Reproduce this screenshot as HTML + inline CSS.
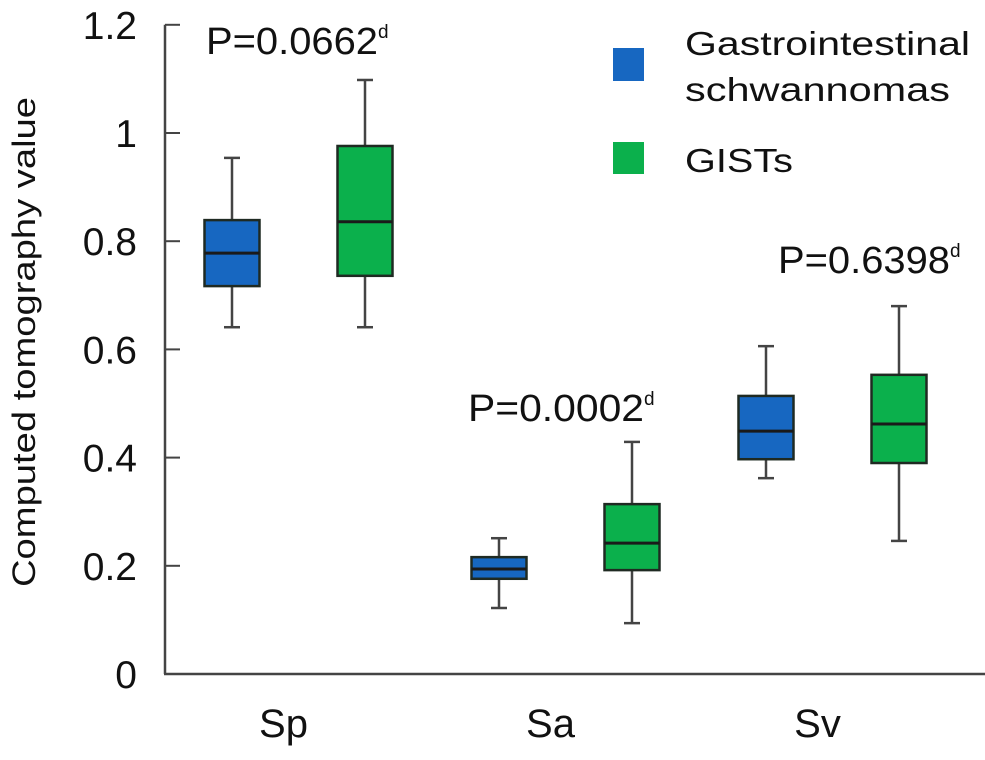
<!DOCTYPE html>
<html><head><meta charset="utf-8"><style>
html,body{margin:0;padding:0;background:#fff;}
svg{display:block;font-family:"Liberation Sans",Arial,sans-serif;}
</style></head><body>
<svg id="chart" width="985" height="760" viewBox="0 0 985 760">
<g id="axes"></g>
<g id="boxes"></g>
<text x="35" y="342" font-size="32" text-anchor="middle" textLength="490" lengthAdjust="spacingAndGlyphs" transform="rotate(-90 35 342)" fill="#111">Computed tomography value</text>
<text x="206" y="54" font-size="38" fill="#111"><tspan textLength="172" lengthAdjust="spacingAndGlyphs">P=0.0662</tspan><tspan font-size="19" dy="-16">d</tspan></text>
<text x="468" y="421" font-size="38" fill="#111"><tspan textLength="176" lengthAdjust="spacingAndGlyphs">P=0.0002</tspan><tspan font-size="19" dy="-16">d</tspan></text>
<text x="778" y="273" font-size="38" fill="#111"><tspan textLength="172" lengthAdjust="spacingAndGlyphs">P=0.6398</tspan><tspan font-size="19" dy="-16">d</tspan></text>
<g>
<g>
<rect x="613" y="48" width="31" height="33" fill="#1767c1"/>
<text x="685" y="55" font-size="33" textLength="285" lengthAdjust="spacingAndGlyphs" fill="#111">Gastrointestinal</text>
<text x="685" y="101" font-size="33" textLength="265" lengthAdjust="spacingAndGlyphs" fill="#111">schwannomas</text>
</g>
<g>
<rect x="613" y="142" width="31" height="32" fill="#0bb04c"/>
<text x="685" y="172" font-size="33" textLength="108" lengthAdjust="spacingAndGlyphs" fill="#111">GISTs</text>
</g>
</g>
</svg>
<script>
const categories = ["Sp","Sa","Sv"];
const yTicks = [0,0.2,0.4,0.6,0.8,1,1.2];
const yTickLabels = ["0","0.2","0.4","0.6","0.8","1","1.2"];
// [whiskerLow, q1, median, q3, whiskerHigh]
const schwannomaStats = [[0.641,0.717,0.778,0.839,0.954],[0.122,0.176,0.194,0.216,0.251],[0.362,0.397,0.449,0.514,0.606]];
const gistStats = [[0.641,0.736,0.836,0.976,1.098],[0.094,0.192,0.242,0.314,0.429],[0.246,0.390,0.462,0.553,0.680]];
const seriesNames = ["schwannomas","gists"];
const seriesColors = ["#1767c1","#0bb04c"];

const NS="http://www.w3.org/2000/svg";
const y0=674, yPx=541, x0=165, xEnd=985;
function yScale(v){return y0 - v*yPx;}
function groupCenter(i){return 232 + i*267 + 66.5;}
function boxCenter(i,s){return 232 + i*267 + s*133;}
function mk(tag,attrs,parent){const e=document.createElementNS(NS,tag);for(const k in attrs)e.setAttribute(k,attrs[k]);parent.appendChild(e);return e;}

const axes=document.getElementById('axes');
let yl=mk('line',{x1:x0,y1:y0,x2:x0,y2:yScale(1.2),stroke:'#444','stroke-width':2.5},axes);


let xl=mk('line',{x1:x0-1,y1:y0,x2:xEnd,y2:y0,stroke:'#444','stroke-width':2.5},axes);


yTicks.forEach((v,i)=>{
  const t=mk('line',{x1:x0,y1:yScale(v),x2:x0+15,y2:yScale(v),stroke:'#444','stroke-width':2},axes);
  
  
  const l=mk('text',{x:137,y:yScale(v)+14,'font-size':39,'text-anchor':'end',fill:'#111'},axes);
  l.textContent=yTickLabels[i];
  
  
});
categories.forEach((c,i)=>{
  const l=mk('text',{x:groupCenter(i)-15,y:737,'font-size':40,'text-anchor':'middle',fill:'#111'},axes);
  l.textContent=c;
  
  
});
const boxes=document.getElementById('boxes');
[schwannomaStats,gistStats].forEach((series,s)=>{
  series.forEach((st,i)=>{
    const cx=boxCenter(i,s), w=55;
    const g=mk('g',{},boxes);
    
    
    mk('line',{x1:cx,y1:yScale(st[0]),x2:cx,y2:yScale(st[4]),stroke:'#444','stroke-width':2.5},g);
    mk('line',{x1:cx-8,y1:yScale(st[0]),x2:cx+8,y2:yScale(st[0]),stroke:'#444','stroke-width':2.5},g);
    mk('line',{x1:cx-8,y1:yScale(st[4]),x2:cx+8,y2:yScale(st[4]),stroke:'#444','stroke-width':2.5},g);
    mk('rect',{x:cx-w/2,y:yScale(st[3]),width:w,height:yScale(st[1])-yScale(st[3]),fill:seriesColors[s],stroke:'#1f2a22','stroke-width':2.5},g);
    mk('line',{x1:cx-w/2,y1:yScale(st[2]),x2:cx+w/2,y2:yScale(st[2]),stroke:'#1a1a1a','stroke-width':3},g);
  });
});
</script>
</body></html>
